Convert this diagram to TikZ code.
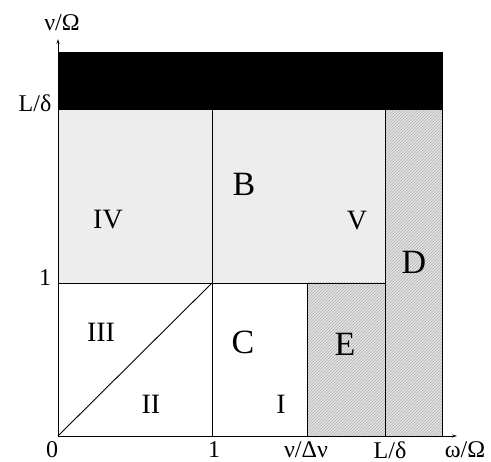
\documentclass[tikz,border=0pt]{standalone}
\usepackage{fontspec}
\setmainfont{Liberation Serif}
\usetikzlibrary{patterns,arrows.meta}

\begin{document}
\begin{tikzpicture}[x=1pt,y=1pt,>={Stealth[length=5pt,width=3pt]},
    region/.style={font=\fontsize{34}{34}\selectfont},
    roman/.style={font=\fontsize{28}{28}\selectfont},
    tick/.style={font=\fontsize{24}{24}\selectfont},
    stipple/.style={fill=gray!14},
    hatchfill/.style={fill=gray!22},
    hatch/.style={pattern=north east lines, pattern color=gray!60},
    edge/.style={line width=0.9pt}]

\useasboundingbox (0,0) rectangle (491,462);

% grid points
\coordinate (O) at (58,26);
\coordinate (x1) at (212,26);
\coordinate (xv) at (307,26);
\coordinate (xL) at (385,26);
\coordinate (xR) at (442,26);
\coordinate (xA) at (457,26);
\coordinate (y1) at (58,179);
\coordinate (yL) at (58,352);
\coordinate (yT) at (58,410);
\coordinate (yA) at (58,423);

% shaded regions
\fill[stipple] (yL) rectangle (xL |- y1);
\fill[hatchfill] (xv |- y1) rectangle (xL);
\fill[hatch] (xv |- y1) rectangle (xL);
\fill[hatchfill] (xL |- yL) rectangle (xR);
\fill[hatch] (xL |- yL) rectangle (xR);
\fill[black] (yL) rectangle (xR |- yT);

% boundaries
\draw[edge] (x1) -- (x1 |- yL);
\draw[edge] (xv) -- (xv |- y1);
\draw[edge] (xL) -- (xL |- yL);
\draw[edge] (xR) -- (xR |- yT);
\draw[edge] (y1) -- (xL |- y1);
\draw[edge] (O) -- (x1 |- y1);

% axes
\draw[edge,->] (O) -- (xA);
\draw[edge,->] (O) -- (yA);

% axis labels
\node[tick] (nuax) at (62,439) {ν/Ω};
\node[tick] (ylab) at (35,359) {L/δ};
\node[tick] (yone) at (45,184) {1};
\node[tick] (xzero) at (52,12) {0};
\node[tick] (xone) at (214,12) {1};
\node[tick] (xnu) at (306,12) {ν/Δν};
\node[tick] (xlab) at (390,12) {L/δ};
\node[tick] (omax) at (465,12) {ω/Ω};

% region labels
\node[region] (B) at (244,278) {B};
\node[region] (C) at (243,120) {C};
\node[region] (D) at (414,200) {D};
\node[region] (E) at (345,118) {E};
\node[roman] (IV) at (108,242) {IV};
\node[roman] (V) at (357,241) {V};
\node[roman] (III) at (101,130) {III};
\node[roman] (II) at (151,58) {II};
\node[roman] (I) at (281,58) {I};

\end{tikzpicture}
\end{document}
